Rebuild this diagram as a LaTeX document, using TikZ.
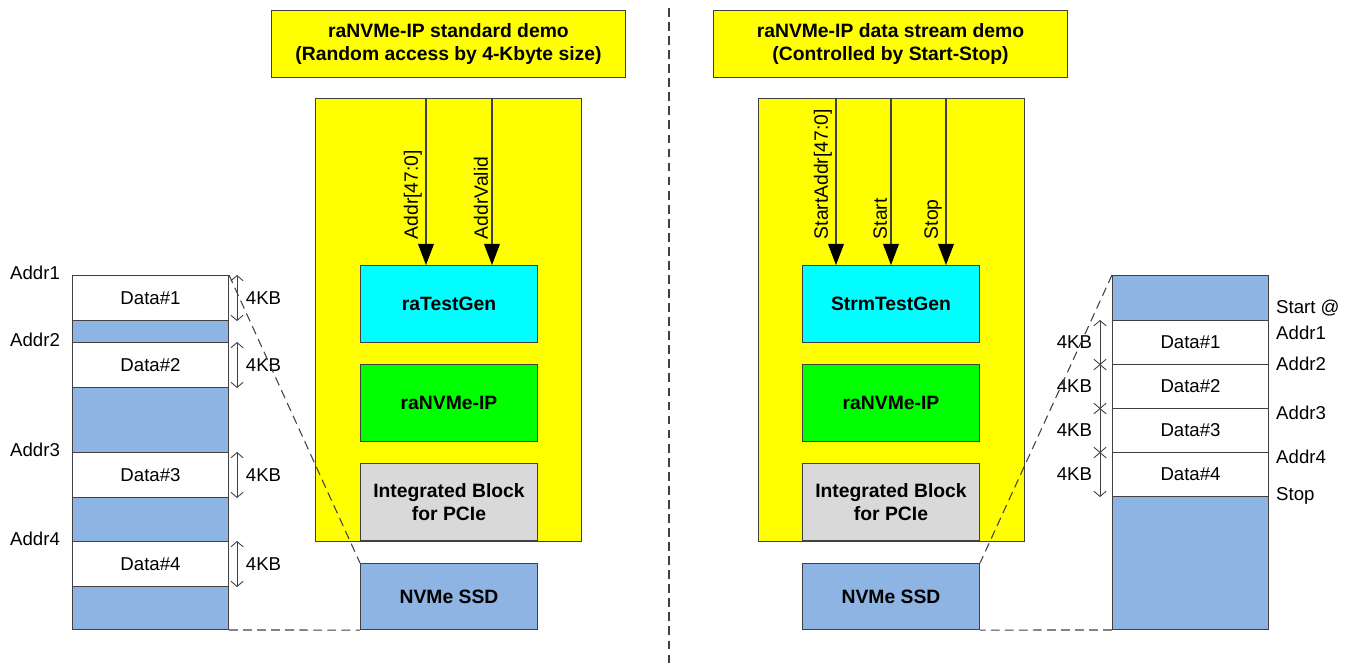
\documentclass[tikz,border=0pt]{standalone}
\usepackage{fontspec}
\setmainfont{Liberation Sans}
\usetikzlibrary{arrows.meta,positioning,calc}
\definecolor{DYellow}{HTML}{FFFF00}
\definecolor{DCyan}{HTML}{00FFFF}
\definecolor{DGreen}{HTML}{00FF00}
\definecolor{DGrey}{HTML}{D9D9D9}
\definecolor{DBlue}{HTML}{8EB4E3}
\definecolor{DLine}{HTML}{404040}

\begin{document}
\begin{tikzpicture}[x=0.02cm,y=-0.02cm,
  every node/.style={font=\fontsize{10.6}{12}\selectfont,text=black},
  title/.style={draw=DLine,fill=DYellow,line width=0.6pt,minimum width=7.08cm,
        minimum height=1.34cm,anchor=north west,align=center,
        font=\fontsize{11}{13}\selectfont\bfseries},
  fpga/.style={draw=DLine,fill=DYellow,line width=0.8pt,minimum width=5.32cm,
        minimum height=8.86cm,anchor=north west},
  blk/.style={draw=DLine,line width=0.6pt,minimum width=3.54cm,minimum height=1.54cm,
        anchor=north west,align=center,font=\fontsize{11}{13}\selectfont\bfseries},
  mem/.style={draw=DLine,fill=DBlue,line width=0.6pt,minimum width=3.12cm,
        minimum height=7.08cm,anchor=north west},
  data/.style={draw=DLine,fill=white,line width=0.6pt,minimum width=3.12cm,
        minimum height=0.9cm,anchor=north west},
  sig/.style={draw=DLine,line width=0.6pt,-{Triangle[length=12pt,width=9pt,color=black]}},
  size/.style={draw=DLine,line width=0.5pt,
        {Straight Barb[length=3pt,width=7pt]}-{Straight Barb[length=3pt,width=7pt]}},
  link/.style={draw=DLine,line width=0.6pt,dash pattern=on 5pt off 3pt},
  lbl/.style={rotate=90,anchor=south west,inner sep=2pt,font=\fontsize{11}{13}\selectfont}]
  \useasboundingbox (0,0) rectangle (1355,666);

  % standard demo
  \node[title] (ltitle) at (271,10) {raNVMe-IP standard demo\\(Random access by 4-Kbyte size)};
  \node[fpga] (lfpga) at (315,98) {};
  \node[blk,fill=DCyan] (ratg) at (360,265) {raTestGen};
  \node[blk,fill=DGreen] (lip) at (360,364) {raNVMe-IP};
  \node[blk,fill=DGrey] (lpcie) at (360,463) {Integrated Block\\for PCIe};
  \node[blk,fill=DBlue,minimum height=1.32cm] (lssd) at (360,563) {NVMe SSD};
  \coordinate (aaddr) at ([xshift=1.32cm]ratg.north west);
  \coordinate (avld) at ([xshift=2.64cm]ratg.north west);
  \draw[sig] (aaddr |- lfpga.north) -- node[lbl,pos=0.87] (laddr) {Addr[47:0]} (aaddr);
  \draw[sig] (avld |- lfpga.north) -- node[lbl,pos=0.87] (lvld) {AddrValid} (avld);

  \node[mem] (lmem) at (72,275) {};
  \foreach \n/\y in {1/275,2/342,3/452,4/541} {
    \node[data] (ld\n) at (72,\y) {Data\#\n};
    \node[anchor=west] (la\n) at (4,\y-2) {Addr\n};
    \draw[size] ([xshift=0.16cm]ld\n.north east) -- node[right=1.5pt] (lk\n) {4KB}
      ([xshift=0.16cm]ld\n.south east);
  }

  % data stream demo
  \node[title] (rtitle) at (713,10) {raNVMe-IP data stream demo\\(Controlled by Start-Stop)};
  \node[fpga] (rfpga) at (758,98) {};
  \node[blk,fill=DCyan] (strm) at (802,265) {StrmTestGen};
  \node[blk,fill=DGreen] (rip) at (802,364) {raNVMe-IP};
  \node[blk,fill=DGrey] (rpcie) at (802,463) {Integrated Block\\for PCIe};
  \node[blk,fill=DBlue,minimum height=1.32cm] (rssd) at (802,563) {NVMe SSD};
  \coordinate (astad) at ([xshift=0.68cm]strm.north west);
  \coordinate (asta) at ([xshift=1.78cm]strm.north west);
  \coordinate (asto) at ([xshift=2.88cm]strm.north west);
  \draw[sig] (astad |- rfpga.north) -- node[lbl,pos=0.87] (lstad) {StartAddr[47:0]} (astad);
  \draw[sig] (asta |- rfpga.north) -- node[lbl,pos=0.87] (lsta) {Start} (asta);
  \draw[sig] (asto |- rfpga.north) -- node[lbl,pos=0.87] (lsto) {Stop} (asto);

  \node[mem] (rmem) at (1112,275) {};
  \foreach \n/\y in {1/320,2/364,3/408,4/452} {
    \node[data,minimum height=0.88cm] (rd\n) at (1112,\y) {Data\#\n};
    \draw[size] ([xshift=-0.24cm]rd\n.north west) -- node[left=1pt] (rk\n) {4KB}
      ([xshift=-0.24cm]rd\n.south west);
  }
  \foreach \t/\y [count=\i] in {Start @/308,Addr1/333,Addr2/364,Addr3/413,Addr4/457,Stop/496}
    \node[anchor=west] (rl\i) at (1270,\y) {\t};

  % links to the SSD
  \draw[link] (lmem.north east) -- (lssd.north west);
  \draw[link] (lmem.south east) -- (lssd.south west);
  \draw[link] (rmem.north west) -- (rssd.north east);
  \draw[link] (rmem.south west) -- (rssd.south east);

  \coordinate (divtop) at (669,8);
  \coordinate (divbot) at (669,666);
  \draw[DLine,line width=0.6pt,dash pattern=on 5pt off 3pt] (divtop) -- (divbot);
\end{tikzpicture}
\end{document}
